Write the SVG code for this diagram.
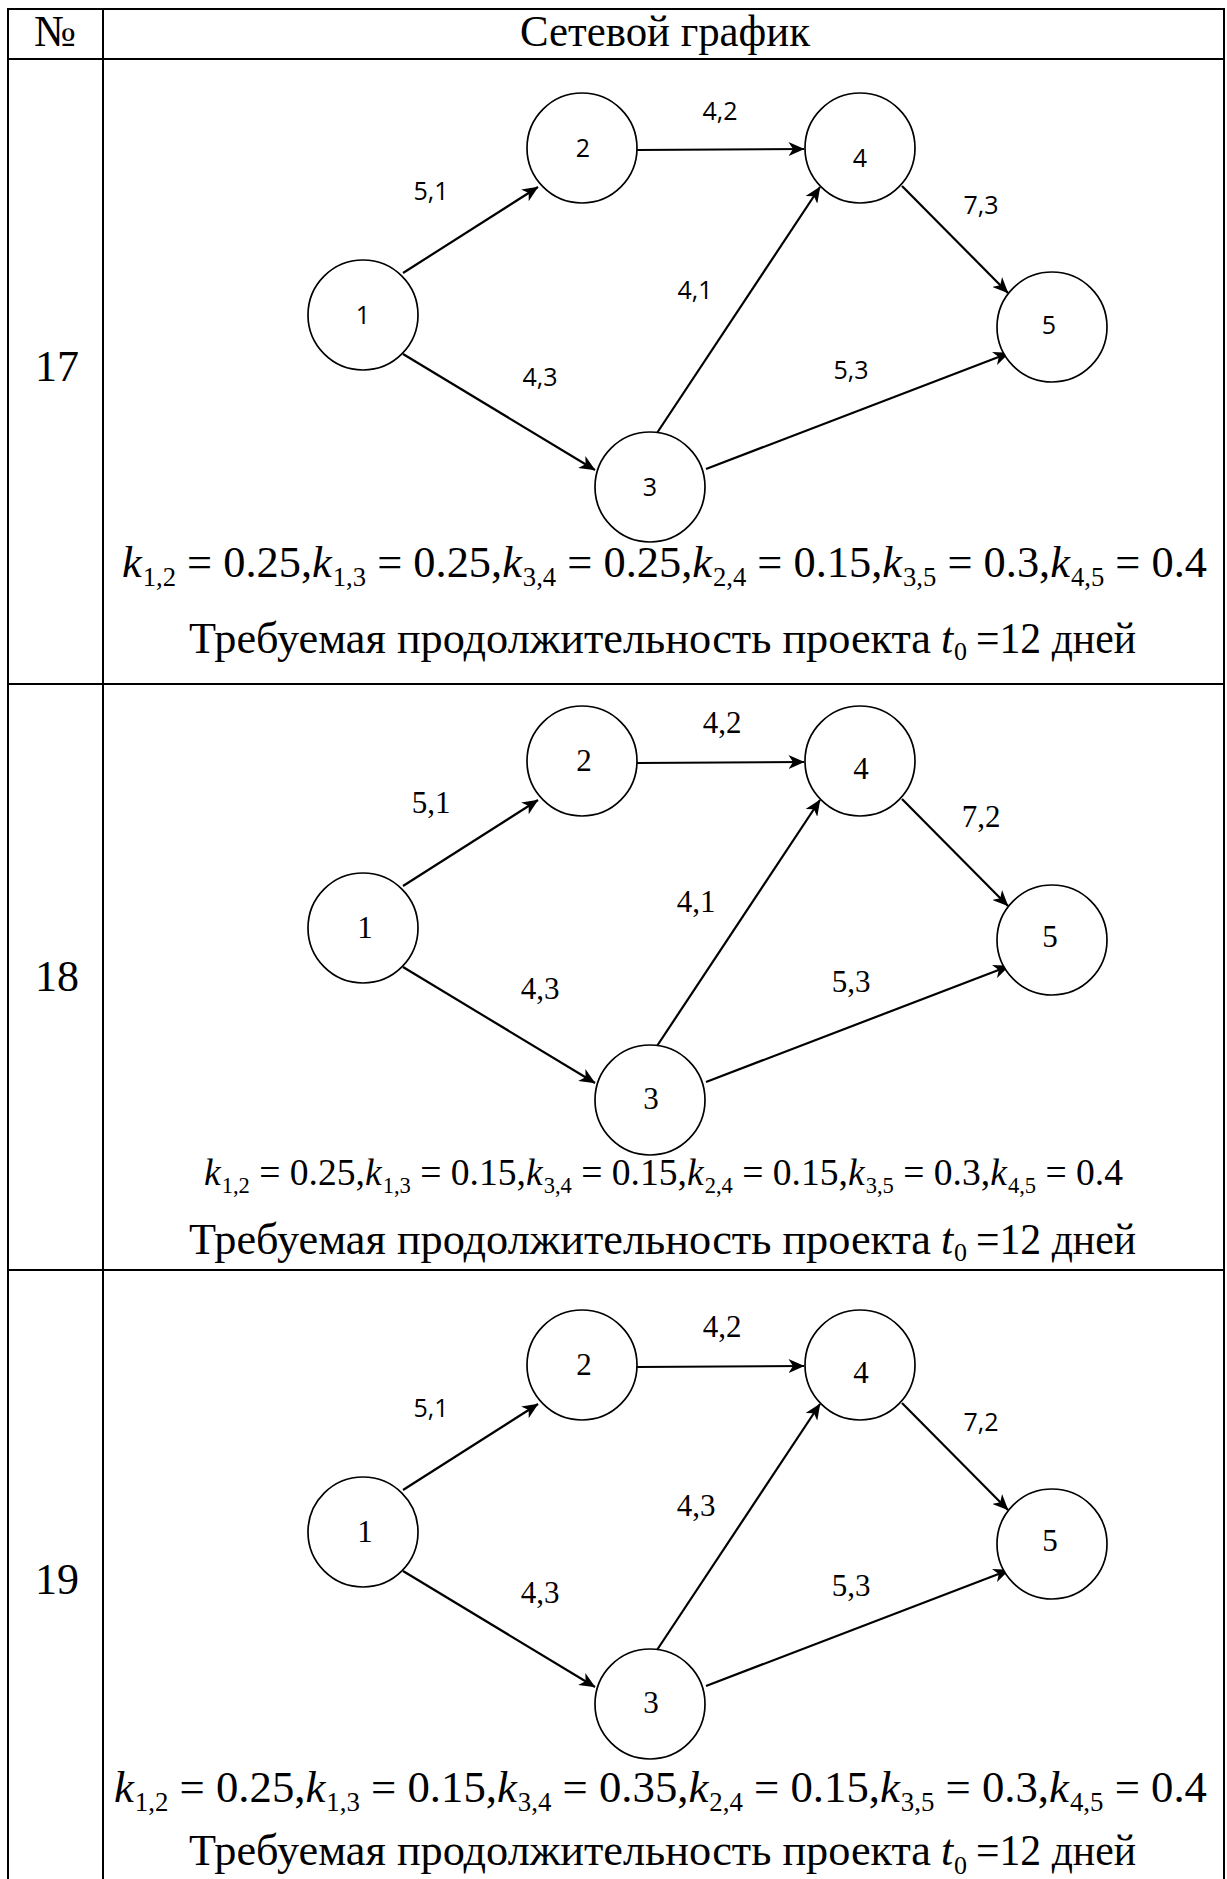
<svg xmlns="http://www.w3.org/2000/svg" width="1227" height="1879" viewBox="0 0 1227 1879">
<style>
.tbl{stroke:#000;stroke-width:2;fill:none}
.node{fill:#fff;stroke:#000;stroke-width:1.7}
.edge{stroke:#000;stroke-width:2.2;fill:none;marker-end:url(#arr)}
.sans{font-family:"Open Sans","Liberation Sans",sans-serif;font-size:25px;text-anchor:middle;fill:#000}
.serif{font-family:"Liberation Serif","Times New Roman",serif;font-size:31px;text-anchor:middle;fill:#000}
.big{font-family:"Liberation Serif","Times New Roman",serif;font-size:44px;fill:#000}
.eq{font-family:"Liberation Serif","Times New Roman",serif;fill:#000}
.it{font-style:italic}
.sub{font-size:60%}
.s0{font-family:"Liberation Serif","Times New Roman",serif;font-size:26px;fill:#000}
</style>
<defs>
<marker id="arr" markerWidth="16" markerHeight="14" refX="15.5" refY="7" orient="auto" markerUnits="userSpaceOnUse">
<path d="M0,0 L16,7 L0,14 L4.5,7 Z" fill="#000"/>
</marker>
</defs>
<rect width="1227" height="1879" fill="#fff"/>

<g id="table">
<line class="tbl" x1="8" y1="9" x2="1224" y2="9"/>
<line class="tbl" x1="8" y1="59" x2="1224" y2="59"/>
<line class="tbl" x1="8" y1="684" x2="1224" y2="684"/>
<line class="tbl" x1="8" y1="1270" x2="1224" y2="1270"/>
<line class="tbl" x1="8" y1="8" x2="8" y2="1879"/>
<line class="tbl" x1="103" y1="8" x2="103" y2="1879"/>
<line class="tbl" x1="1224" y1="8" x2="1224" y2="1879"/>
<text class="big" x="55" y="46" text-anchor="middle">№</text>
<text class="big" x="665" y="46" text-anchor="middle" textLength="290" lengthAdjust="spacingAndGlyphs">Сетевой график</text>
<text class="big" x="57" y="381" text-anchor="middle">17</text>
<text class="big" x="57" y="991" text-anchor="middle">18</text>
<text class="big" x="57" y="1594" text-anchor="middle">19</text>
</g>

<!-- ===== Row 17 ===== -->
<g id="r17-connectors">
<line class="edge" x1="403" y1="273" x2="538" y2="187"/>
<line class="edge" x1="637" y1="150" x2="804" y2="149"/>
<line class="edge" x1="403" y1="354" x2="595" y2="470"/>
<line class="edge" x1="657" y1="433" x2="820" y2="187"/>
<line class="edge" x1="706" y1="469" x2="1009" y2="353"/>
<line class="edge" x1="902" y1="186" x2="1008" y2="293"/>
<text class="sans" x="431" y="200">5,1</text>
<text class="sans" x="720" y="120">4,2</text>
<text class="sans" x="540" y="386">4,3</text>
<text class="sans" x="695" y="299">4,1</text>
<text class="sans" x="851" y="379">5,3</text>
<text class="sans" x="981" y="214">7,3</text>
</g>
<g id="r17-n1"><ellipse class="node" cx="363" cy="315" rx="55" ry="55"/><text class="sans" x="363" y="324">1</text></g>
<g id="r17-n2"><ellipse class="node" cx="582" cy="148" rx="55" ry="55"/><text class="sans" x="583" y="157">2</text></g>
<g id="r17-n3"><ellipse class="node" cx="650" cy="487" rx="55" ry="55"/><text class="sans" x="650" y="496">3</text></g>
<g id="r17-n4"><ellipse class="node" cx="860" cy="148" rx="55" ry="55"/><text class="sans" x="860" y="167">4</text></g>
<g id="r17-n5"><ellipse class="node" cx="1052" cy="327" rx="55" ry="55"/><text class="sans" x="1049" y="334">5</text></g>
<g id="r17-text">
<text class="eq" x="122" y="577" font-size="44" textLength="1085" lengthAdjust="spacingAndGlyphs"><tspan class="it">k</tspan><tspan class="sub" dx="1" dy="9">1,2</tspan><tspan dy="-9"> = 0.25,</tspan><tspan class="it">k</tspan><tspan class="sub" dx="1" dy="9">1,3</tspan><tspan dy="-9"> = 0.25,</tspan><tspan class="it">k</tspan><tspan class="sub" dx="1" dy="9">3,4</tspan><tspan dy="-9"> = 0.25,</tspan><tspan class="it">k</tspan><tspan class="sub" dx="1" dy="9">2,4</tspan><tspan dy="-9"> = 0.15,</tspan><tspan class="it">k</tspan><tspan class="sub" dx="1" dy="9">3,5</tspan><tspan dy="-9"> = 0.3,</tspan><tspan class="it">k</tspan><tspan class="sub" dx="1" dy="9">4,5</tspan><tspan dy="-9"> = 0.4</tspan></text>
<text class="eq" x="189" y="653" font-size="44" textLength="742" lengthAdjust="spacingAndGlyphs">Требуемая продолжительность проекта</text>
<text class="eq it" x="941" y="653" font-size="44">t</text>
<text class="s0" x="954" y="660">0</text>
<text class="eq" x="976" y="653" font-size="44" textLength="160" lengthAdjust="spacingAndGlyphs">=12 дней</text>
</g>

<!-- ===== Row 18 ===== -->
<g id="r18-connectors">
<line class="edge" x1="403" y1="886" x2="538" y2="800"/>
<line class="edge" x1="637" y1="763" x2="804" y2="762"/>
<line class="edge" x1="403" y1="967" x2="595" y2="1083"/>
<line class="edge" x1="657" y1="1046" x2="820" y2="800"/>
<line class="edge" x1="706" y1="1082" x2="1009" y2="966"/>
<line class="edge" x1="902" y1="799" x2="1008" y2="906"/>
<text class="serif" x="431" y="813">5,1</text>
<text class="serif" x="722" y="733">4,2</text>
<text class="serif" x="540" y="999">4,3</text>
<text class="serif" x="696" y="912">4,1</text>
<text class="serif" x="851" y="992">5,3</text>
<text class="serif" x="981" y="827">7,2</text>
</g>
<g id="r18-n1"><ellipse class="node" cx="363" cy="928" rx="55" ry="55"/><text class="serif" x="365" y="938">1</text></g>
<g id="r18-n2"><ellipse class="node" cx="582" cy="761" rx="55" ry="55"/><text class="serif" x="584" y="771">2</text></g>
<g id="r18-n3"><ellipse class="node" cx="650" cy="1100" rx="55" ry="55"/><text class="serif" x="651" y="1109">3</text></g>
<g id="r18-n4"><ellipse class="node" cx="860" cy="761" rx="55" ry="55"/><text class="serif" x="861" y="779">4</text></g>
<g id="r18-n5"><ellipse class="node" cx="1052" cy="940" rx="55" ry="55"/><text class="serif" x="1050" y="947">5</text></g>
<g id="r18-text">
<text class="eq" x="204" y="1185" font-size="37" textLength="919" lengthAdjust="spacingAndGlyphs"><tspan class="it">k</tspan><tspan class="sub" dx="1" dy="8">1,2</tspan><tspan dy="-8"> = 0.25,</tspan><tspan class="it">k</tspan><tspan class="sub" dx="1" dy="8">1,3</tspan><tspan dy="-8"> = 0.15,</tspan><tspan class="it">k</tspan><tspan class="sub" dx="1" dy="8">3,4</tspan><tspan dy="-8"> = 0.15,</tspan><tspan class="it">k</tspan><tspan class="sub" dx="1" dy="8">2,4</tspan><tspan dy="-8"> = 0.15,</tspan><tspan class="it">k</tspan><tspan class="sub" dx="1" dy="8">3,5</tspan><tspan dy="-8"> = 0.3,</tspan><tspan class="it">k</tspan><tspan class="sub" dx="1" dy="8">4,5</tspan><tspan dy="-8"> = 0.4</tspan></text>
<text class="eq" x="189" y="1254" font-size="44" textLength="742" lengthAdjust="spacingAndGlyphs">Требуемая продолжительность проекта</text>
<text class="eq it" x="941" y="1254" font-size="44">t</text>
<text class="s0" x="954" y="1261">0</text>
<text class="eq" x="976" y="1254" font-size="44" textLength="160" lengthAdjust="spacingAndGlyphs">=12 дней</text>
</g>

<!-- ===== Row 19 ===== -->
<g id="r19-connectors">
<line class="edge" x1="403" y1="1490" x2="538" y2="1404"/>
<line class="edge" x1="637" y1="1367" x2="804" y2="1366"/>
<line class="edge" x1="403" y1="1571" x2="595" y2="1687"/>
<line class="edge" x1="657" y1="1650" x2="820" y2="1404"/>
<line class="edge" x1="706" y1="1686" x2="1009" y2="1570"/>
<line class="edge" x1="902" y1="1403" x2="1008" y2="1510"/>
<text class="sans" x="431" y="1417">5,1</text>
<text class="serif" x="722" y="1337">4,2</text>
<text class="serif" x="540" y="1603">4,3</text>
<text class="serif" x="696" y="1516">4,3</text>
<text class="serif" x="851" y="1596">5,3</text>
<text class="sans" x="981" y="1431">7,2</text>
</g>
<g id="r19-n1"><ellipse class="node" cx="363" cy="1532" rx="55" ry="55"/><text class="serif" x="365" y="1542">1</text></g>
<g id="r19-n2"><ellipse class="node" cx="582" cy="1365" rx="55" ry="55"/><text class="serif" x="584" y="1375">2</text></g>
<g id="r19-n3"><ellipse class="node" cx="650" cy="1704" rx="55" ry="55"/><text class="serif" x="651" y="1713">3</text></g>
<g id="r19-n4"><ellipse class="node" cx="860" cy="1365" rx="55" ry="55"/><text class="serif" x="861" y="1383">4</text></g>
<g id="r19-n5"><ellipse class="node" cx="1052" cy="1544" rx="55" ry="55"/><text class="serif" x="1050" y="1551">5</text></g>
<g id="r19-text">
<text class="eq" x="114" y="1802" font-size="44" textLength="1093" lengthAdjust="spacingAndGlyphs"><tspan class="it">k</tspan><tspan class="sub" dx="1" dy="9">1,2</tspan><tspan dy="-9"> = 0.25,</tspan><tspan class="it">k</tspan><tspan class="sub" dx="1" dy="9">1,3</tspan><tspan dy="-9"> = 0.15,</tspan><tspan class="it">k</tspan><tspan class="sub" dx="1" dy="9">3,4</tspan><tspan dy="-9"> = 0.35,</tspan><tspan class="it">k</tspan><tspan class="sub" dx="1" dy="9">2,4</tspan><tspan dy="-9"> = 0.15,</tspan><tspan class="it">k</tspan><tspan class="sub" dx="1" dy="9">3,5</tspan><tspan dy="-9"> = 0.3,</tspan><tspan class="it">k</tspan><tspan class="sub" dx="1" dy="9">4,5</tspan><tspan dy="-9"> = 0.4</tspan></text>
<text class="eq" x="189" y="1865" font-size="44" textLength="742" lengthAdjust="spacingAndGlyphs">Требуемая продолжительность проекта</text>
<text class="eq it" x="941" y="1865" font-size="44">t</text>
<text class="s0" x="954" y="1874">0</text>
<text class="eq" x="976" y="1865" font-size="44" textLength="160" lengthAdjust="spacingAndGlyphs">=12 дней</text>
</g>
</svg>
